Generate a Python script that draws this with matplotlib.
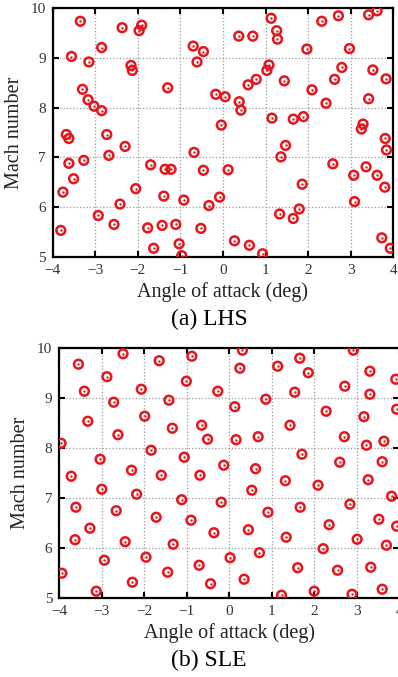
import matplotlib
matplotlib.use('Agg')
import matplotlib.pyplot as plt

plt.rcParams['font.family'] = ['Liberation Serif', 'DejaVu Serif']

# LHS samples (angle of attack, Mach)
lhs_aoa = [-3.35, -3.56, -3.15, -2.85, -2.37, -1.97, -1.91, -2.16, -2.13, -3.30,
           -3.17, -3.03, -2.85, -1.30, -3.68, -3.62, -2.73, -0.70, -0.46, -0.61,
           1.13, 1.26, 1.28, 0.37, 0.70, 2.32, 2.71, 3.42, 3.62, 1.97,
           2.97, 1.08, 1.03, 0.78, 0.59, 1.44, 2.79, 2.62, 3.52, 3.83,
           2.09, -0.17, 0.05, 0.38, 0.42, 2.42, 3.42, -0.04, 1.15, 1.65,
           1.89, 3.29, 3.25, 3.81, 3.84, -2.30, -2.68, -3.62, -3.27, -3.51,
           -3.76, -3.81, -2.93, -2.42, -2.56, -2.05, -1.70, -1.36, -1.22, -1.39,
           -0.92, -0.68, -0.46, -1.77, -1.43, -1.11, -1.63, -1.03, -0.97, -0.52,
           -0.33, 0.12, -0.08, 0.27, 0.62, 0.93, 1.47, 1.36, 1.86, 1.33,
           1.65, 1.79, 2.58, 3.36, 3.07, 3.62, 3.80, 3.09, 3.73, 3.93]
lhs_mach = [9.74, 9.03, 8.92, 9.21, 9.61, 9.55, 9.66, 8.85, 8.75, 8.37,
            8.16, 8.03, 7.94, 8.40, 7.46, 7.38, 7.46, 9.24, 9.13, 8.92,
            9.80, 9.55, 9.38, 9.44, 9.44, 9.74, 9.85, 9.87, 9.95, 9.18,
            9.19, 8.86, 8.75, 8.57, 8.46, 8.54, 8.81, 8.57, 8.76, 8.58,
            8.36, 8.27, 8.22, 8.12, 7.95, 8.09, 8.18, 7.65, 7.79, 7.77,
            7.82, 7.67, 7.57, 7.38, 7.15, 7.22, 7.04, 6.88, 6.94, 6.57,
            6.30, 5.53, 5.83, 6.06, 5.65, 6.37, 6.85, 6.76, 6.76, 6.22,
            6.14, 7.10, 6.74, 5.58, 5.63, 5.65, 5.17, 5.26, 5.02, 5.57,
            6.03, 6.75, 6.20, 5.32, 5.23, 5.06, 7.24, 7.01, 6.46, 5.86,
            5.77, 5.96, 6.87, 6.81, 6.64, 6.64, 6.40, 6.11, 5.38, 5.17]

# SLE samples
sle_aoa = [-3.55, -2.50, -1.65, -0.88, -3.41, -2.88, -2.72, -2.07, -1.42, -1.01,
           -3.33, -2.62, -1.99, -1.34, -0.65, -0.51, -3.96, -3.04, -1.84, -1.06,
           -2.30, 0.31, 0.25, 1.14, 1.66, 1.86, 2.92, 3.31, 3.92, -0.27,
           0.86, 1.54, 2.72, 3.31, 0.13, 2.28, 3.17, 3.94, 0.16, 0.68,
           1.43, 2.71, 3.23, 3.64, 1.71, 2.60, 3.60, -0.13, 0.62, -3.72,
           -1.60, -0.69, -3.61, -3.00, -2.18, -1.12, -2.66, -1.72, -0.90, -3.28,
           -3.63, -2.45, -1.32, -3.94, -2.94, -1.96, -1.45, -0.71, -2.28, -3.13,
           -0.44, -0.36, 0.53, 1.32, 2.09, 3.27, 3.82, -0.19, 0.91, 1.67,
           2.84, 0.45, 1.34, 2.35, 3.52, 3.94, 3.01, 0.71, 0.02, 2.21,
           3.70, 1.61, 2.55, 3.33, 0.35, 1.23, 2.00, 2.89, 3.60]
sle_mach = [9.67, 9.88, 9.74, 9.83, 9.13, 9.42, 8.91, 9.17, 8.95, 9.33,
            8.53, 8.26, 8.63, 8.39, 8.45, 8.17, 8.09, 7.77, 7.95, 7.81,
            7.55, 9.95, 9.59, 9.63, 9.79, 9.50, 9.95, 9.53, 9.37, 9.13,
            8.97, 9.11, 9.23, 9.07, 8.82, 8.73, 8.62, 8.77, 8.16, 8.22,
            8.45, 8.22, 8.05, 8.13, 7.87, 7.71, 7.72, 7.65, 7.58, 7.43,
            7.45, 7.45, 6.81, 7.17, 7.07, 6.96, 6.74, 6.61, 6.55, 6.39,
            6.16, 6.12, 6.07, 5.49, 5.75, 5.81, 5.51, 5.65, 5.31, 5.13,
            5.28, 6.30, 7.15, 7.34, 7.25, 7.36, 7.03, 6.91, 6.71, 6.81,
            6.87, 6.36, 6.21, 6.46, 6.57, 6.43, 6.17, 5.90, 5.80, 5.98,
            6.05, 5.60, 5.55, 5.61, 5.37, 5.05, 5.13, 5.07, 5.17]

x_ticks = [-4, -3, -2, -1, 0, 1, 2, 3, 4]
y_ticks = [5, 6, 7, 8, 9, 10]

RED = '#e8141c'


def draw_panel(ax, aoa, mach):
    ax.scatter(aoa, mach, s=40, facecolors='none', edgecolors=RED, linewidths=1.8, zorder=3)
    ax.scatter(aoa, mach, s=3, color=RED, linewidths=0, zorder=4)
    ax.set_xlim(-4, 4)
    ax.set_ylim(5, 10)
    ax.set_xticks(x_ticks)
    ax.set_yticks(y_ticks)
    ax.grid(True, linestyle=':', color='#9a9a9a', linewidth=0.9)
    ax.tick_params(direction='in', length=4, width=1.5, top=True, right=True,
                   labelsize=11, labelcolor='#333333', pad=5)
    for sp in ax.spines.values():
        sp.set_linewidth(1.6)
    ax.set_xlabel('Angle of attack (deg)', fontsize=14.5, labelpad=4, color='#222222')
    ax.set_ylabel('Mach number', fontsize=14.5, labelpad=5, color='#222222')


fig = plt.figure(figsize=(3.98, 6.77), dpi=100)
ax1 = fig.add_axes([0.1324, 0.6208, 0.8558, 0.3669])
ax2 = fig.add_axes([0.149, 0.1171, 0.854, 0.3693])
draw_panel(ax1, lhs_aoa, lhs_mach)
draw_panel(ax2, sle_aoa, sle_mach)

fig.text(0.525, 0.5288, '(a) LHS', ha='center', va='center', fontsize=17)
fig.text(0.525, 0.0251, '(b) SLE', ha='center', va='center', fontsize=17)

fig.savefig('out.png', dpi=100)
